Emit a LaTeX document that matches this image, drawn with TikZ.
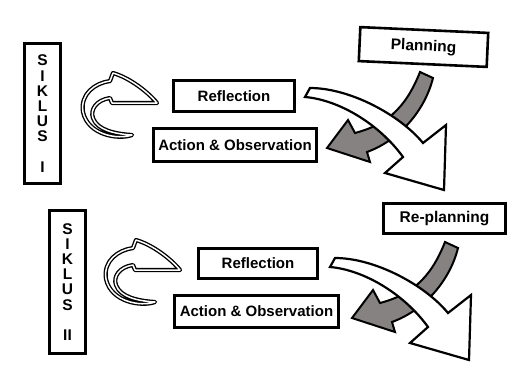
\documentclass[tikz,border=0pt]{standalone}
\usepackage{fontspec}
\setmainfont{Liberation Sans}
\begin{document}
\begin{tikzpicture}[x=1pt,y=-1pt,
  box/.style={draw=black, line width=2.6pt, fill=white, inner sep=0pt,
    font=\fontsize{15}{15}\selectfont\bfseries},
  siklus/.style={draw=black, line width=2.6pt, fill=white, inner sep=0pt,
    minimum width=36.5pt, align=center,
    font=\fontsize{15.5}{15.2}\selectfont\bfseries},
  grayarrow/.style={draw=black, line width=2pt, fill={rgb,255:red,135;green,130;blue,130}, line join=miter},
  whitearrow/.style={draw=black, line width=2.2pt, fill=white, line join=miter},
  carrow/.style={draw=black, line width=1.35pt, double=white, double distance=1.5pt, line join=round}
]
\useasboundingbox (0,0) rectangle (508,365);
\fill[white] (0,0) rectangle (508,365);

% ---------- Cycle I ----------
\node[siklus, minimum height=140.5pt] (sik1) at (42.5,113.5) {S\\I\\K\\L\\U\\S\\[15pt]I};
\node[box, minimum width=120.5pt, minimum height=31.5pt] (refl1) at (234,96) {Reflection};
\node[box, minimum width=163.5pt, minimum height=33.5pt] (act1) at (235,145) {Action \& Observation};
\node[box, minimum width=128pt, minimum height=34pt, rotate=-2.6,
  font=\fontsize{15.5}{15.5}\selectfont\bfseries] (plan) at (423.5,47) {Planning};

\begin{scope}
  \path[carrow] (132,135) .. controls (118,140) and (88,135) .. (83,112)
    .. controls (80,94) and (95,83) .. (110,81) -- (113,73)
    .. controls (130,78) and (148,92) .. (157,103) -- (112,103) -- (110,98)
    .. controls (96,100) and (90,110) .. (93,118)
    .. controls (97,130) and (115,134) .. cycle;
  \path[grayarrow] (420,72) .. controls (405,110) and (385,125) .. (355,133)
    -- (348,120) -- (327,148) -- (370,162) -- (367,152)
    .. controls (400,140) and (425,110) .. (433,78) -- cycle;
  \path[whitearrow] (310,88) .. controls (350,88) and (400,115) .. (423,143)
    -- (446,125) -- (444,190) -- (385,173) -- (403,157)
    .. controls (380,125) and (340,100) .. (305,97) -- cycle;
\end{scope}

% ---------- Cycle II ----------
\node[siklus, minimum height=143.5pt] (sik2) at (67.5,282) {S\\I\\K\\L\\U\\S\\[15.5pt]II};
\node[box, minimum width=119.5pt, minimum height=30.5pt] (refl2) at (258,263.5) {Reflection};
\node[box, minimum width=164.5pt, minimum height=32.5pt] (act2) at (256.5,311.5) {Action \& Observation};
\node[box, minimum width=122pt, minimum height=30.5pt,
  font=\fontsize{15.5}{15.5}\selectfont\bfseries] (replan) at (444.5,218.5) {Re-planning};

\begin{scope}[shift={(23,167)}]
  \path[carrow] (132,135) .. controls (118,140) and (88,135) .. (83,112)
    .. controls (80,94) and (95,83) .. (110,81) -- (113,73)
    .. controls (130,78) and (148,92) .. (157,103) -- (112,103) -- (110,98)
    .. controls (96,100) and (90,110) .. (93,118)
    .. controls (97,130) and (115,134) .. cycle;
\end{scope}
\begin{scope}[shift={(25,170)}]
  \path[grayarrow] (420,72) .. controls (405,110) and (385,125) .. (355,133)
    -- (348,120) -- (327,148) -- (370,162) -- (367,152)
    .. controls (400,140) and (425,110) .. (433,78) -- cycle;
  \path[whitearrow] (310,88) .. controls (350,88) and (400,115) .. (423,143)
    -- (446,125) -- (444,190) -- (385,173) -- (403,157)
    .. controls (380,125) and (340,100) .. (305,97) -- cycle;
\end{scope}
\end{tikzpicture}
\end{document}
